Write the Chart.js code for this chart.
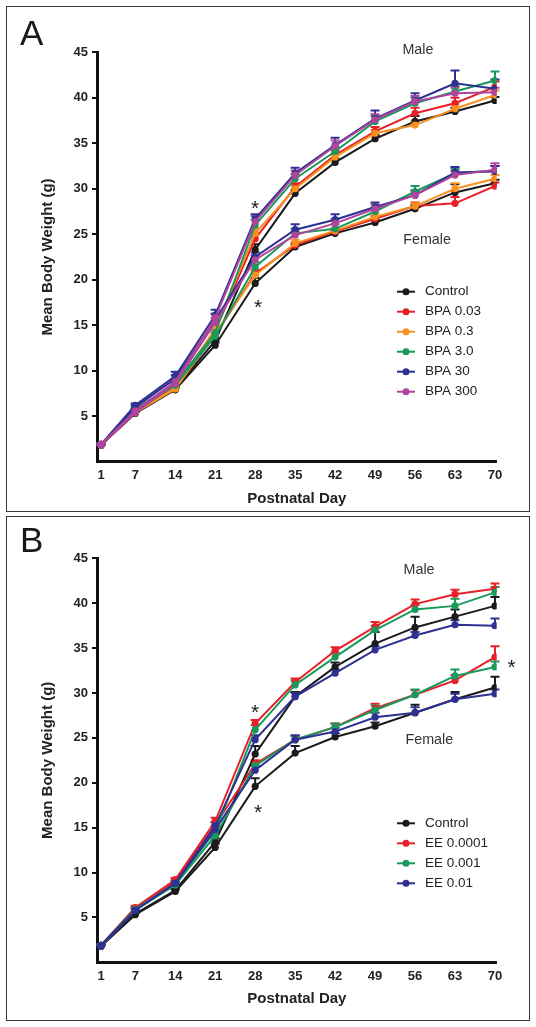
<!DOCTYPE html>
<html><head><meta charset="utf-8">
<script src="https://cdn.jsdelivr.net/npm/chart.js@4.4.0/dist/chart.umd.min.js"></script>
<style>
html,body{margin:0;padding:0;background:#fff;width:536px;height:1027px;overflow:hidden;}
canvas{position:absolute;left:0;}
#cA{top:0}
#cB{top:513px}
.box{position:absolute;border:1.5px solid #3a3a3a;box-sizing:border-box;pointer-events:none}
</style></head><body>
<canvas id="cA" width="536" height="513" style="width:536px;height:513px"></canvas>
<canvas id="cB" width="536" height="514" style="width:536px;height:514px"></canvas>
<div class="box" style="left:6px;top:6px;width:524px;height:506px"></div>
<div class="box" style="left:6px;top:516px;width:524px;height:505px"></div>
<script>
// ---------- DATA ----------
const days = [1, 7, 14, 21, 28, 35, 42, 49, 56, 63, 70];
const xTicks = [1, 7, 14, 21, 28, 35, 42, 49, 56, 63, 70];
const yTicks = [5, 10, 15, 20, 25, 30, 35, 40, 45];

// Panel A (BPA)
const namesA = ['Control', 'BPA 0.03', 'BPA 0.3', 'BPA 3.0', 'BPA 30', 'BPA 300'];
const colorsA = ['#1b1b1b', '#e8202a', '#f7901e', '#199a5c', '#2e3192', '#b0449c'];
const maleA = [
  [1.9, 5.4, 8.0, 13.3, 23.3, 29.5, 32.9, 35.5, 37.4, 38.5, 39.7],
  [1.9, 5.6, 8.3, 14.4, 24.5, 30.2, 33.7, 36.3, 38.3, 39.4, 41.2],
  [1.9, 5.5, 8.1, 14.6, 25.1, 30.0, 33.5, 36.1, 37.0, 38.8, 40.3],
  [1.9, 5.8, 8.6, 14.2, 26.0, 31.1, 34.1, 37.4, 39.4, 40.7, 41.9],
  [1.9, 6.2, 9.4, 16.1, 26.7, 31.7, 34.8, 37.7, 39.7, 41.6, 41.0],
  [1.9, 5.6, 8.8, 15.8, 26.4, 31.5, 34.7, 37.6, 39.6, 40.5, 40.6]
];
const maleErrA = [
  [0.1, 0.2, 0.2, 0.3, 0.6, 0.4, 0.4, 0.4, 0.6, 0.4, 0.4],
  [0.1, 0.2, 0.2, 0.4, 0.6, 0.4, 0.5, 0.5, 0.6, 0.6, 0.6],
  [0.1, 0.2, 0.2, 0.4, 0.5, 0.4, 0.4, 0.4, 0.5, 0.5, 0.5],
  [0.1, 0.2, 0.2, 0.4, 0.6, 0.5, 0.5, 0.6, 0.6, 0.6, 1.0],
  [0.1, 0.2, 0.5, 0.6, 0.5, 0.6, 0.8, 0.9, 0.8, 1.4, 1.0],
  [0.1, 0.2, 0.3, 0.5, 0.6, 0.5, 0.6, 0.6, 0.6, 0.6, 0.5]
];
const femaleA = [
  [1.8, 5.3, 7.9, 12.8, 19.6, 23.6, 25.1, 26.3, 27.8, 29.6, 30.6],
  [1.8, 5.5, 8.1, 13.9, 20.7, 23.8, 25.3, 26.7, 28.1, 28.4, 30.3],
  [1.8, 5.4, 8.0, 14.1, 20.5, 24.0, 25.4, 26.9, 28.1, 30.0, 31.1],
  [1.8, 5.6, 8.4, 13.8, 21.4, 25.1, 25.6, 27.5, 29.7, 31.7, 32.0],
  [1.8, 6.0, 9.1, 15.6, 22.5, 25.5, 26.6, 28.0, 29.3, 31.8, 31.9],
  [1.8, 5.4, 8.6, 15.3, 22.2, 24.9, 26.2, 27.8, 29.3, 31.5, 32.1]
];
const femaleErrA = [
  [0.1, 0.2, 0.2, 0.3, 0.6, 0.3, 0.3, 0.3, 0.4, 0.9, 0.4],
  [0.1, 0.2, 0.2, 0.3, 0.4, 0.3, 0.3, 0.3, 0.4, 0.7, 0.4],
  [0.1, 0.2, 0.2, 0.4, 0.5, 0.4, 0.3, 0.4, 0.4, 0.6, 0.4],
  [0.1, 0.2, 0.2, 0.3, 0.5, 0.5, 0.5, 0.4, 0.6, 0.5, 0.5],
  [0.1, 0.2, 0.4, 0.6, 0.5, 0.6, 0.6, 0.5, 0.5, 0.6, 0.6],
  [0.1, 0.2, 0.3, 0.5, 0.5, 0.4, 0.5, 0.5, 0.5, 0.5, 0.7]
];

// Panel B (EE)
const namesB = ['Control', 'EE 0.0001', 'EE 0.001', 'EE 0.01'];
const colorsB = ['#1b1b1b', '#e8202a', '#199a5c', '#2e3192'];
const maleB = [
  [1.9, 5.4, 8.0, 13.4, 23.2, 29.6, 32.9, 35.5, 37.3, 38.5, 39.7],
  [1.9, 6.1, 9.2, 15.7, 26.6, 31.2, 34.7, 37.4, 39.9, 41.0, 41.6],
  [1.9, 5.9, 8.8, 14.6, 25.9, 30.9, 34.0, 37.0, 39.3, 39.7, 41.2],
  [1.9, 5.8, 8.8, 15.2, 24.8, 29.6, 32.2, 34.8, 36.4, 37.6, 37.5]
];
const maleErrB = [
  [0.1, 0.2, 0.2, 0.4, 0.9, 0.5, 0.5, 1.3, 1.2, 0.8, 1.0],
  [0.1, 0.2, 0.2, 0.4, 0.4, 0.4, 0.4, 0.5, 0.5, 0.5, 0.6],
  [0.1, 0.2, 0.2, 0.4, 0.5, 0.5, 0.5, 0.5, 0.5, 0.8, 0.6],
  [0.1, 0.2, 0.2, 0.4, 0.5, 0.4, 0.4, 0.4, 0.4, 0.5, 0.8]
];
const femaleB = [
  [1.8, 5.3, 7.9, 12.8, 19.6, 23.3, 25.1, 26.3, 27.8, 29.3, 30.6],
  [1.8, 6.0, 9.0, 15.3, 22.1, 24.8, 26.2, 28.3, 29.8, 31.4, 34.0],
  [1.8, 5.8, 8.6, 14.1, 21.9, 24.8, 26.2, 28.1, 29.8, 31.9, 32.9],
  [1.8, 5.8, 8.8, 14.8, 21.4, 24.8, 25.7, 27.3, 27.8, 29.3, 29.9]
];
const femaleErrB = [
  [0.1, 0.2, 0.2, 0.4, 0.9, 0.8, 0.4, 0.4, 0.9, 0.8, 1.2],
  [0.1, 0.2, 0.2, 0.3, 0.4, 0.4, 0.4, 0.5, 0.5, 0.6, 1.2],
  [0.1, 0.2, 0.2, 0.3, 0.4, 0.4, 0.4, 0.5, 0.6, 0.7, 0.6],
  [0.1, 0.2, 0.2, 0.4, 0.5, 0.5, 0.4, 0.5, 0.6, 0.6, 0.5]
];

// Annotations (positioned in data units)
const notesA = [
  {text: 'Male', day: 56.5, value: 45.2, kind: 'label'},
  {text: 'Female', day: 58.1, value: 24.4, kind: 'label'},
  {text: '*', day: 28, value: 28.4, kind: 'star'},
  {text: '*', day: 28.5, value: 17.5, kind: 'star'}
];
const notesB = [
  {text: 'Male', day: 56.7, value: 43.7, kind: 'label'},
  {text: 'Female', day: 58.5, value: 24.8, kind: 'label'},
  {text: '*', day: 28, value: 28.4, kind: 'star'},
  {text: '*', day: 28.5, value: 17.3, kind: 'star'},
  {text: '*', day: 72.9, value: 33.5, kind: 'star'}
];

// ---------- RENDERING ----------
const FAM = '"Liberation Sans", Arial, Helvetica, sans-serif';
const INK = '#222';

const errPlugin = {
  id: 'errbars',
  beforeDatasetsDraw(chart) {
    const ctx = chart.ctx, xs = chart.scales.x, ys = chart.scales.y;
    const list = chart.data.datasets.map((d, i) => i).sort((a, b) => chart.data.datasets[b].order - chart.data.datasets[a].order);
    list.forEach(i => {
      const ds = chart.data.datasets[i];
      ctx.save();
      ctx.strokeStyle = ds.borderColor;
      ctx.lineWidth = 2;
      ds.data.forEach((p, k) => {
        const e = ds.err[k];
        if (!e) return;
        const x = xs.getPixelForValue(p.x);
        const y0 = ys.getPixelForValue(p.y);
        const y1 = ys.getPixelForValue(p.y + e);
        ctx.beginPath();
        ctx.moveTo(x, y0); ctx.lineTo(x, y1);
        ctx.moveTo(x - 4.5, y1); ctx.lineTo(x + 4.5, y1);
        ctx.stroke();
      });
      ctx.restore();
    });
  }
};

const decorPlugin = {
  id: 'decor',
  afterDraw(chart, args, opts) {
    const ctx = chart.ctx, xs = chart.scales.x, ys = chart.scales.y;
    ctx.save();
    // panel letter
    ctx.fillStyle = '#1a1a1a';
    ctx.font = '35px ' + FAM;
    ctx.textAlign = 'left';
    ctx.textBaseline = 'alphabetic';
    ctx.fillText(opts.letter, 20, opts.letterY);
    // annotations
    opts.notes.forEach(n => {
      const x = xs.getPixelForValue(n.day), y = ys.getPixelForValue(n.value);
      ctx.textAlign = 'center';
      if (n.kind === 'star') {
        ctx.fillStyle = '#1a1a1a';
        ctx.font = '21px ' + FAM;
        ctx.textBaseline = 'alphabetic';
        ctx.fillText(n.text, x, y + 0.57 * 21);
      } else {
        ctx.fillStyle = '#333';
        ctx.font = '14.3px ' + FAM;
        ctx.textBaseline = 'middle';
        ctx.fillText(n.text, x, y);
      }
    });
    // legend
    const L = opts.legend;
    opts.names.forEach((name, i) => {
      const y = L.y0 + i * L.dy;
      ctx.strokeStyle = opts.colors[i];
      ctx.fillStyle = opts.colors[i];
      ctx.lineWidth = 2;
      ctx.beginPath(); ctx.moveTo(L.x1, y); ctx.lineTo(L.x2, y); ctx.stroke();
      ctx.beginPath(); ctx.arc((L.x1 + L.x2) / 2, y, 3.5, 0, Math.PI * 2); ctx.fill();
      ctx.fillStyle = INK;
      ctx.font = '13.5px ' + FAM;
      ctx.textAlign = 'left';
      ctx.textBaseline = 'middle';
      ctx.fillText(name, L.tx, y);
    });
    ctx.restore();
  }
};

function buildDatasets(names, colors, male, maleErr, female, femaleErr) {
  const out = [];
  names.forEach((name, i) => {
    [[male, maleErr, 'Male'], [female, femaleErr, 'Female']].forEach(([vals, errs, sex]) => {
      out.push({
        label: name + ' ' + sex,
        data: days.map((d, k) => ({x: d, y: vals[i][k]})),
        err: errs[i],
        borderColor: colors[i],
        backgroundColor: colors[i],
        pointBackgroundColor: colors[i],
        pointBorderColor: colors[i],
        borderWidth: 2,
        pointRadius: 3.6,
        pointBorderWidth: 0,
        tension: 0,
        order: names.length - i
      });
    });
  });
  return out;
}

function makeChart(id, datasets, pad, decor) {
  return new Chart(document.getElementById(id), {
    type: 'line',
    data: {datasets},
    options: {
      responsive: false,
      animation: false,
      devicePixelRatio: 1,
      layout: {padding: pad},
      plugins: {legend: {display: false}, tooltip: {enabled: false}, decor},
      scales: {
        x: {
          type: 'linear', min: 0.3, max: 70.3,
          afterBuildTicks: s => { s.ticks = xTicks.map(v => ({value: v})); },
          afterFit: s => { s.height = 46; },
          grid: {display: true, drawOnChartArea: false, drawTicks: false},
          border: {display: true, color: '#111', width: 3},
          ticks: {padding: 6, autoSkip: false, maxRotation: 0, color: INK,
                  font: {family: FAM, size: 13, weight: 'bold'}},
          title: {display: true, text: 'Postnatal Day', color: INK,
                  font: {family: FAM, size: 15, weight: 'bold'}, padding: {top: 0, bottom: 0}}
        },
        y: {
          min: 0, max: 45,
          afterBuildTicks: s => { s.ticks = yTicks.map(v => ({value: v})); },
          afterFit: s => { s.width = 97; },
          grid: {display: true, drawOnChartArea: false, drawTicks: true, tickLength: 5, color: '#111', lineWidth: 2},
          border: {display: true, color: '#111', width: 3},
          ticks: {padding: 4, color: INK, font: {family: FAM, size: 13, weight: 'bold'}},
          title: {display: true, text: 'Mean Body Weight (g)', color: INK,
                  font: {family: FAM, size: 15, weight: 'bold'}, padding: {top: 39, bottom: 0}}
        }
      }
    },
    plugins: [errPlugin, decorPlugin]
  });
}

makeChart('cA',
  buildDatasets(namesA, colorsA, maleA, maleErrA, femaleA, femaleErrA),
  {left: 0, top: 52.3, right: 39.3, bottom: 5.3},
  {letter: 'A', letterY: 45, notes: notesA, names: namesA, colors: colorsA,
   legend: {x1: 397, x2: 415, tx: 425, y0: 291.7, dy: 20}});

makeChart('cB',
  buildDatasets(namesB, colorsB, maleB, maleErrB, femaleB, femaleErrB),
  {left: 0, top: 45.3, right: 39.3, bottom: 18.7},
  {letter: 'B', letterY: 39, notes: notesB, names: namesB, colors: colorsB,
   legend: {x1: 397, x2: 415, tx: 425, y0: 310.3, dy: 20}});
</script>
</body></html>
